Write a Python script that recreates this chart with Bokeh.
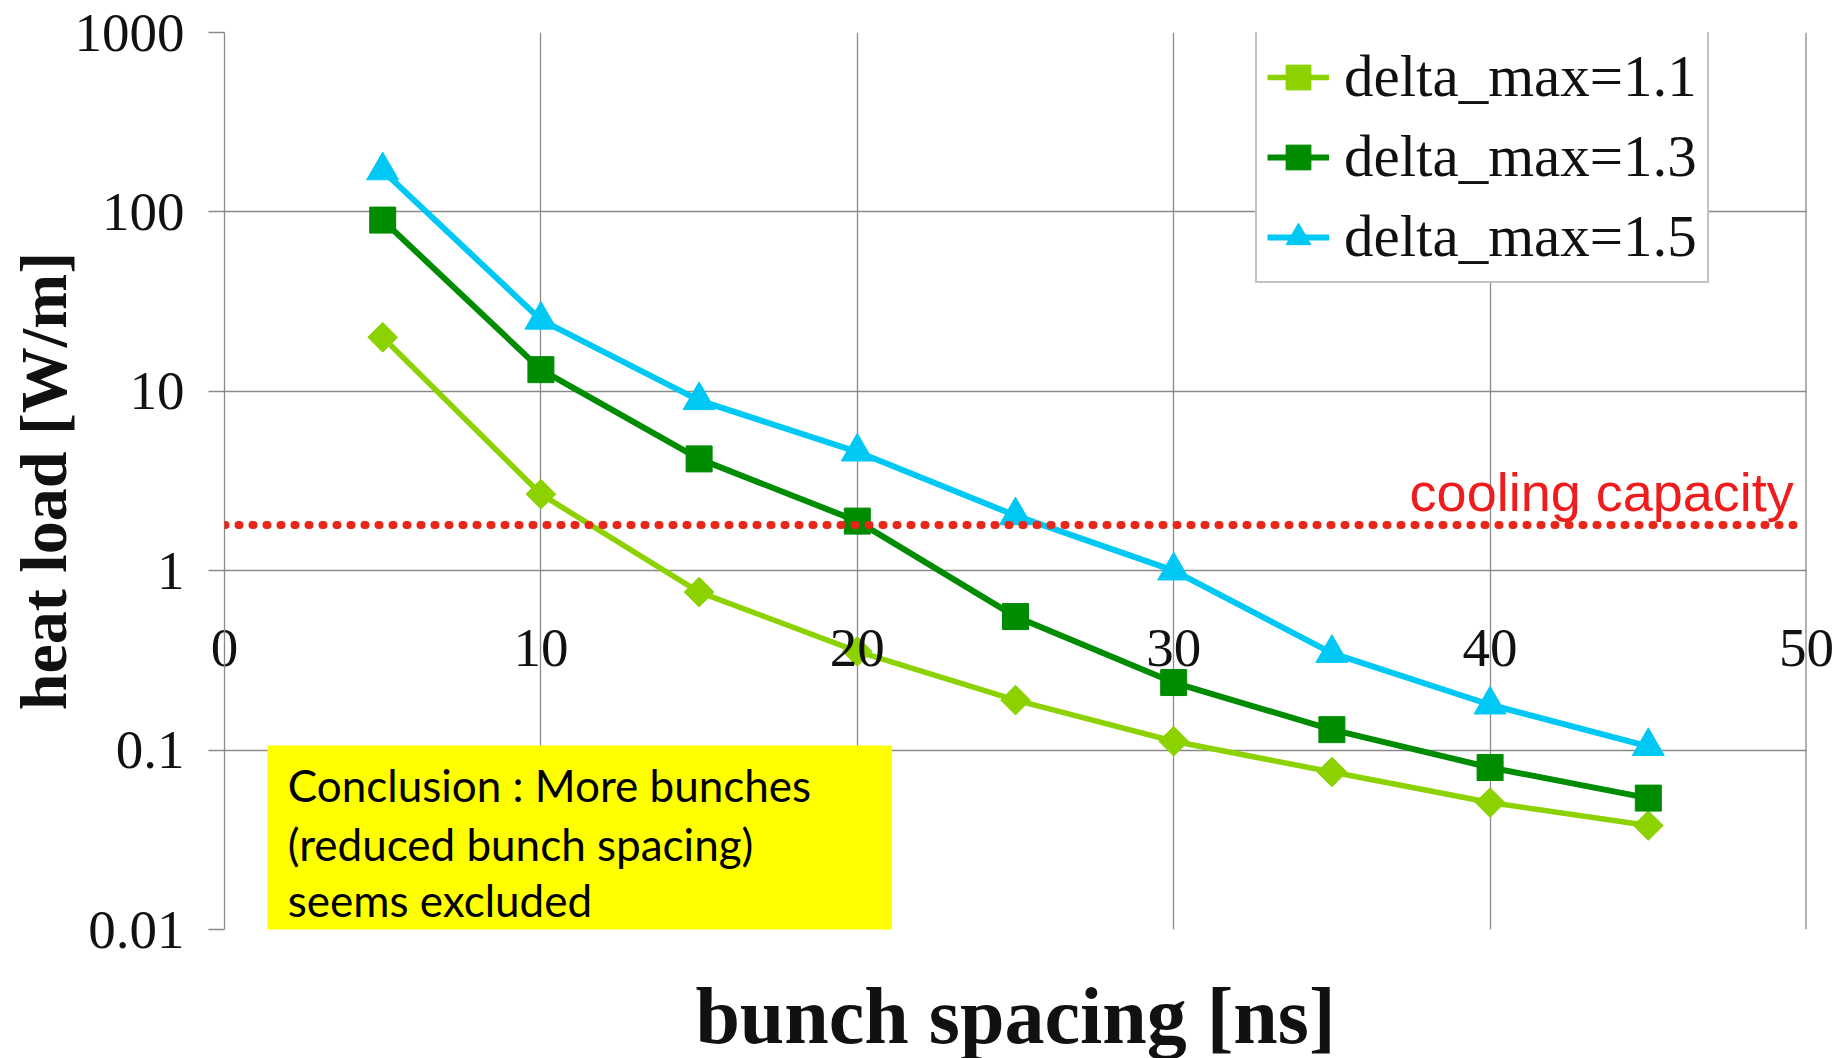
import numpy as np
from bokeh.plotting import figure
from bokeh.models import (FixedTicker, CustomJSTickFormatter, Legend, LegendItem, Label,
                          ColumnDataSource, BoxAnnotation, Range1d, Span)
from bokeh.embed import file_html
from bokeh.resources import INLINE

# ---------------- data ----------------
bunch_spacing = [5, 10, 15, 20, 25, 30, 35, 40, 45]
heat_dm11 = [20.0, 2.67, 0.76, 0.355, 0.19, 0.112, 0.0755, 0.051, 0.038]
heat_dm13 = [90.0, 13.2, 4.2, 1.89, 0.555, 0.238, 0.13, 0.080, 0.054]
heat_dm15 = [170.0, 25.0, 8.9, 4.6, 2.03, 1.0, 0.347, 0.179, 0.105]
series_labels = ["delta_max=1.1", "delta_max=1.3", "delta_max=1.5"]
cooling_capacity = 1.8
x_ticks = [0, 10, 20, 30, 40, 50]
y_ticks = [0.01, 0.1, 1, 10, 100, 1000]
note_lines = ["Conclusion : More bunches", "(reduced bunch spacing)", "seems excluded"]

c11 = "#8CD200"
c13 = "#008C00"
c15 = "#00C8F5"
grid_c = "#8a8a8a"

p = figure(frame_width=1582, frame_height=897, y_axis_type="log",
           x_range=Range1d(x_ticks[0], x_ticks[-1]),
           y_range=Range1d(y_ticks[0], y_ticks[-1]),
           output_backend="svg", toolbar_location=None,
           min_border_left=224, min_border_right=33, min_border_top=32, min_border_bottom=113,
           background_fill_color="white", border_fill_color="white")
p.outline_line_color = None

# grids
p.xgrid.ticker = FixedTicker(ticks=x_ticks)
p.ygrid.ticker = FixedTicker(ticks=y_ticks)
for g in (p.xgrid, p.ygrid):
    g.grid_line_color = grid_c
    g.grid_line_width = 1.3
p.ygrid.minor_grid_line_color = None

# y axis
ya = p.yaxis[0]
ya.ticker = FixedTicker(ticks=y_ticks)
ya.formatter = CustomJSTickFormatter(code="return tick.toString();")
ya.axis_line_color = grid_c
ya.axis_line_width = 1.3
ya.major_tick_line_color = grid_c
ya.major_tick_line_width = 1.3
ya.major_tick_out = 16
ya.major_tick_in = 0
ya.minor_tick_line_color = None
ya.major_label_standoff = 24
ya.major_label_text_font = "Liberation Serif"
ya.major_label_text_font_size = "55px"
ya.major_label_text_color = "#111111"
ya.axis_label = "heat load [W/m]"
ya.axis_label_text_font = "Liberation Serif"
ya.axis_label_text_font_style = "bold"
ya.axis_label_text_font_size = "66px"
ya.axis_label_text_color = "#111111"
ya.axis_label_standoff = -8

# x axis: tick labels pulled up inside the plot as in the original
xa = p.xaxis[0]
xa.ticker = FixedTicker(ticks=x_ticks)
xa.axis_line_color = None
xa.major_tick_line_color = None
xa.minor_tick_line_color = None
xa.major_tick_out = 0
xa.major_tick_in = 0
xa.major_label_standoff = -300
xa.major_label_text_font = "Liberation Serif"
xa.major_label_text_font_size = "55px"
xa.major_label_text_color = "#111111"
xa.axis_label = "bunch spacing [ns]"
xa.axis_label_text_font = "Liberation Serif"
xa.axis_label_text_font_style = "bold"
xa.axis_label_text_font_size = "80px"
xa.axis_label_text_color = "#111111"
xa.axis_label_standoff = 303

# right border
p.add_layout(Span(location=x_ticks[-1], dimension="height", line_color="#666666", line_width=2))

# data
r_items = []
specs = [(heat_dm11, c11, "square", 21, np.pi / 4, 5.5),
         (heat_dm13, c13, "square", 26, 0.0, 6),
         (heat_dm15, c15, "triangle", 32, 0.0, 6)]
for (vals, col, mk, sz, ang, lw), lab in zip(specs, series_labels):
    src = ColumnDataSource(dict(x=bunch_spacing, y=vals))
    rl = p.line("x", "y", source=src, line_color=col, line_width=lw)
    rs = p.scatter("x", "y", source=src, marker=mk, size=sz, angle=ang,
                   fill_color=col, line_color=col)
    r_items.append(LegendItem(label=lab, renderers=[rl, rs]))

# cooling capacity
p.add_layout(Span(location=cooling_capacity, dimension="width", line_color="#E8261A",
                  line_width=8, line_dash="1 13", line_cap="round"))
p.add_layout(Label(x=49.6, y=2.76, text="cooling capacity", text_align="right",
                   text_baseline="alphabetic", text_font="Liberation Sans",
                   text_font_size="54px", text_color="#EE1C1C"))

# note box
p.add_layout(BoxAnnotation(left=1.36, right=21.1, top=0.106, bottom=0.0087,
                           fill_color="#FFFF00", fill_alpha=1.0, line_color=None))
for txt, yy in zip(note_lines, [0.0639, 0.0300, 0.0146]):
    p.add_layout(Label(x=2.0, y=yy, text=txt, text_align="left", text_baseline="alphabetic",
                       text_font="Lato", text_font_size="44px", text_color="black"))

legend = Legend(items=r_items, location=(1031, 646), label_text_font="Liberation Serif",
                label_text_font_size="59px", label_text_color="#111111",
                label_height=68, glyph_height=68, glyph_width=62, spacing=11,
                padding=10, label_standoff=15, margin=0,
                border_line_color="#888888", border_line_width=2,
                background_fill_color="white", background_fill_alpha=1.0)
p.add_layout(legend)

open("out.html", "w").write(file_html(p, INLINE))
